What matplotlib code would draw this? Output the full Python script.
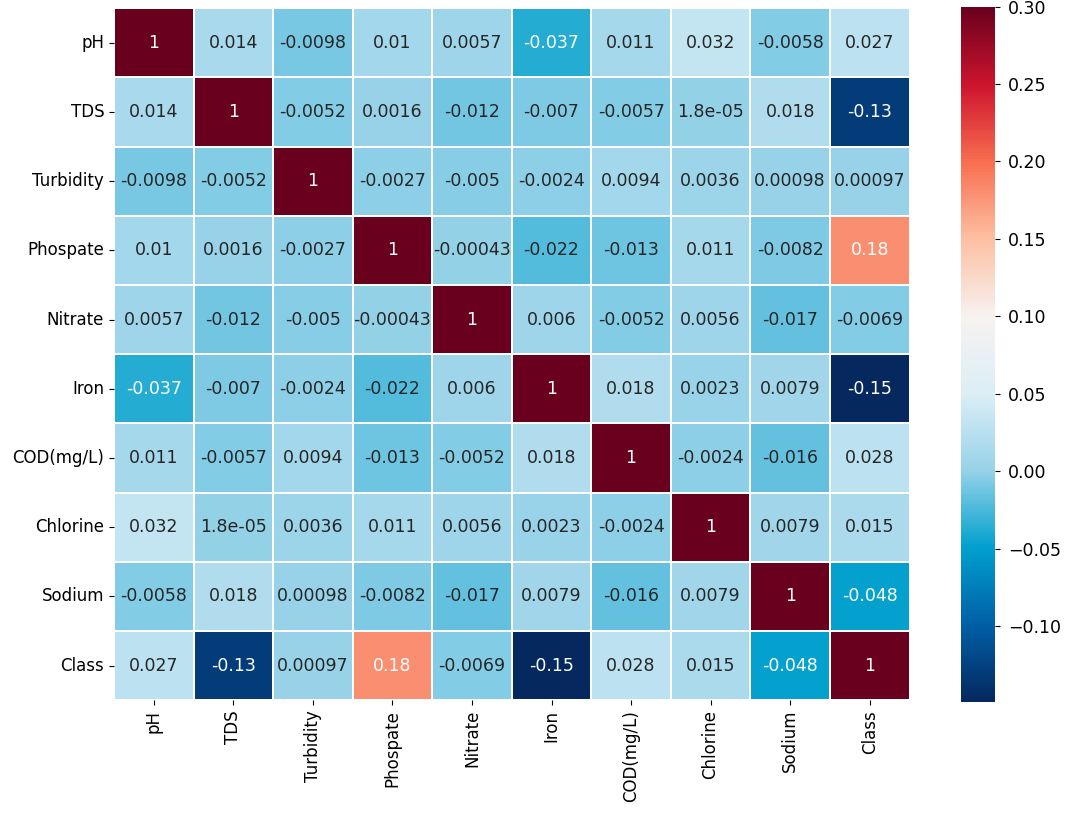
import numpy as np
import matplotlib
matplotlib.use("Agg")
import matplotlib.pyplot as plt
from matplotlib.colors import LinearSegmentedColormap
from matplotlib.ticker import FuncFormatter
import seaborn as sns

labels = ["pH", "TDS", "Turbidity", "Phospate", "Nitrate", "Iron",
          "COD(mg/L)", "Chlorine", "Sodium", "Class"]

ph        = [1, 0.014, -0.0098, 0.01, 0.0057, -0.037, 0.011, 0.032, -0.0058, 0.027]
tds       = [0.014, 1, -0.0052, 0.0016, -0.012, -0.007, -0.0057, 1.8e-05, 0.018, -0.13]
turbidity = [-0.0098, -0.0052, 1, -0.0027, -0.005, -0.0024, 0.0094, 0.0036, 0.00098, 0.00097]
phospate  = [0.01, 0.0016, -0.0027, 1, -0.00043, -0.022, -0.013, 0.011, -0.0082, 0.18]
nitrate   = [0.0057, -0.012, -0.005, -0.00043, 1, 0.006, -0.0052, 0.0056, -0.017, -0.0069]
iron      = [-0.037, -0.007, -0.0024, -0.022, 0.006, 1, 0.018, 0.0023, 0.0079, -0.149]
cod       = [0.011, -0.0057, 0.0094, -0.013, -0.0052, 0.018, 1, -0.0024, -0.016, 0.028]
chlorine  = [0.032, 1.8e-05, 0.0036, 0.011, 0.0056, 0.0023, -0.0024, 1, 0.0079, 0.015]
sodium    = [-0.0058, 0.018, 0.00098, -0.0082, -0.017, 0.0079, -0.016, 0.0079, 1, -0.048]
cls       = [0.027, -0.13, 0.00097, 0.18, -0.0069, -0.149, 0.028, 0.015, -0.048, 1]

corr = np.array([ph, tds, turbidity, phospate, nitrate, iron, cod, chlorine, sodium, cls])

vmin, vmax = -0.149, 0.30

# saturated RdBu-like colours
anchor_vals = [-0.149, -0.10, -0.05, 0.00, 0.05, 0.10, 0.15, 0.20, 0.25, 0.30]
anchor_cols = [(5, 40, 95), (0, 95, 165), (0, 160, 205), (150, 210, 232),
               (220, 238, 246), (247, 242, 240), (253, 192, 162), (248, 110, 80),
               (205, 20, 45), (105, 0, 30)]
stops = [((v - vmin) / (vmax - vmin), tuple(c / 255 for c in col))
         for v, col in zip(anchor_vals, anchor_cols)]
cmap = LinearSegmentedColormap.from_list("rdbu_sat", stops)

fig = plt.figure(figsize=(10.65, 8.17), dpi=100)
ax = fig.add_axes([0.107, 0.143, 0.747, 0.847])
cax = fig.add_axes([0.902, 0.141, 0.032, 0.851])

sns.heatmap(corr, ax=ax, cbar_ax=cax, cmap=cmap, vmin=vmin, vmax=vmax,
            annot=True, annot_kws={"size": 12.5}, linewidths=1.2, linecolor="white",
            xticklabels=labels, yticklabels=labels)

# white text on the darker / saturated cells
for t, v in zip(ax.texts, corr.flatten()):
    t.set_color("white" if (v > 0.15 or v < -0.035) else "#262626")

ax.tick_params(axis="both", labelsize=12)
ax.set_xticklabels(labels, rotation=90)
ax.set_yticklabels(labels, rotation=0)

cbar = ax.collections[0].colorbar
cbar.set_ticks([-0.10, -0.05, 0.00, 0.05, 0.10, 0.15, 0.20, 0.25, 0.30])
cbar.ax.yaxis.set_major_formatter(
    FuncFormatter(lambda x, pos: ("%.2f" % x).replace("-", "\u2212")))
cax.tick_params(labelsize=12.5, pad=6)
cbar.outline.set_visible(False)

fig.savefig("out.png", dpi=100)
